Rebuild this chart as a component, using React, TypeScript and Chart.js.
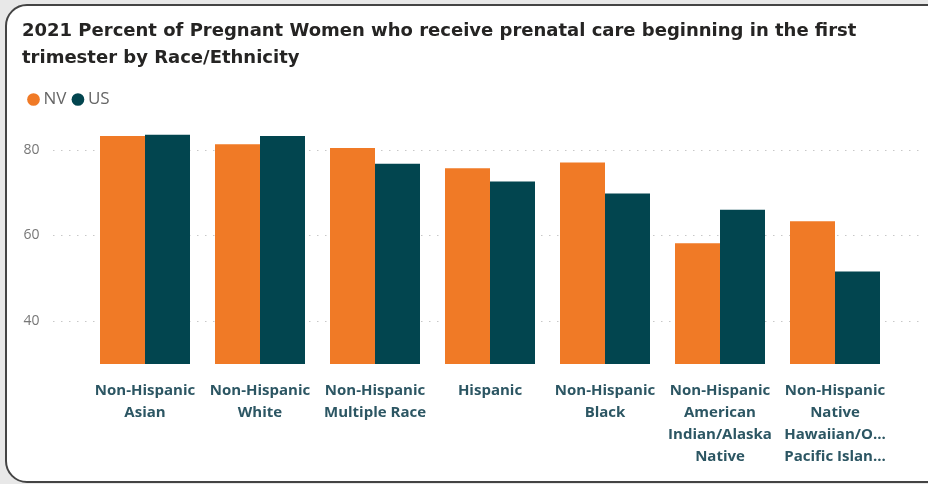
import React, { useEffect, useRef } from "react";
import { Chart, registerables } from "chart.js";

Chart.register(...registerables);

const categories: string[][] = [
  ["Non-Hispanic", "Asian"],
  ["Non-Hispanic", "White"],
  ["Non-Hispanic", "Multiple Race"],
  ["Hispanic"],
  ["Non-Hispanic", "Black"],
  ["Non-Hispanic", "American", "Indian/Alaska", "Native"],
  ["Non-Hispanic", "Native", "Hawaiian/O...", "Pacific Islan..."],
];
const nvValues = [83.2, 81.3, 80.4, 75.7, 77.0, 58.2, 63.3];
const usValues = [83.5, 83.2, 76.7, 72.6, 69.8, 66.0, 51.6];
const yTicks = [40, 60, 80];
const titleLines = [
  "2021 Percent of Pregnant Women who receive prenatal care beginning in the first",
  "trimester by Race/Ethnicity",
];

const FONT = "'Open Sans', 'Segoe UI', sans-serif";
const TITLE_FONT = "'DejaVu Sans', sans-serif";

const gridPlugin = {
  id: "dottedGrid",
  beforeDatasetsDraw(chart: any) {
    const { ctx } = chart;
    const y = chart.scales.y;
    ctx.save();
    ctx.strokeStyle = "#c8c8c8";
    ctx.lineWidth = 1;
    ctx.setLineDash([1.5, 6.5]);
    yTicks.forEach((v) => {
      const py = Math.round(y.getPixelForValue(v)) + 0.5;
      ctx.beginPath();
      ctx.moveTo(53, py);
      ctx.lineTo(922, py);
      ctx.stroke();
    });
    ctx.restore();
  },
};

export default function App() {
  const ref = useRef<HTMLCanvasElement>(null);
  useEffect(() => {
    if (!ref.current) return;
    const chart = new Chart(ref.current, {
      type: "bar",
      data: {
        labels: categories,
        datasets: [
          { label: "NV", data: nvValues, backgroundColor: "#F07A26" },
          { label: "US", data: usValues, backgroundColor: "#02454F" },
        ],
      },
      options: {
        animation: false,
        responsive: false,
        maintainAspectRatio: false,
        layout: { padding: { left: 22, right: 35.5, top: 0, bottom: 0 } },
        datasets: {
          bar: { categoryPercentage: 90 / 115, barPercentage: 1 },
        },
        plugins: {
          title: {
            display: true,
            text: titleLines,
            align: "start",
            color: "#252423",
            font: { family: TITLE_FONT, size: 18, weight: "bold", lineHeight: 27 / 18 },
            padding: { top: 18, bottom: 9 },
          },
          legend: {
            display: true,
            align: "start",
            labels: {
              usePointStyle: true,
              pointStyle: "circle",
              boxWidth: 3,
              boxHeight: 9,
              padding: 10,
              color: "#666",
              font: { family: FONT, size: 17 },
            },
          },
          tooltip: { enabled: false },
        },
        scales: {
          x: {
            grid: { display: false, drawTicks: false },
            border: { display: false },
            ticks: {
              autoSkip: false,
              maxRotation: 0,
              minRotation: 0,
              padding: 16,
              color: "#2C5663",
              font: { family: FONT, size: 15, weight: "bold", lineHeight: 22 / 15 },
            },
            afterFit: (s: any) => {
              s.height = 120;
            },
          },
          y: {
            min: 30,
            max: 87.4,
            grid: { display: false, drawTicks: false },
            border: { display: false },
            afterBuildTicks: (s: any) => {
              s.ticks = yTicks.map((v) => ({ value: v }));
            },
            afterFit: (s: any) => {
              s.width = 65.5;
            },
            ticks: {
              padding: 48,
              color: "#777",
              font: { family: FONT, size: 14 },
            },
          },
        },
      },
      plugins: [gridPlugin],
    });
    return () => chart.destroy();
  }, []);

  return (
    <div
      style={{
        position: "fixed",
        left: 0,
        top: 0,
        width: 928,
        height: 484,
        background: "#e8e8e8",
        overflow: "hidden",
      }}
    >
      <div
        style={{
          position: "absolute",
          left: 5,
          top: 4,
          width: 940,
          height: 475,
          border: "2px solid #444",
          borderRadius: 22,
          background: "#fff",
        }}
      />
      <canvas
        ref={ref}
        width={928}
        height={484}
        style={{ position: "absolute", left: 0, top: 0, width: 928, height: 484 }}
      />
    </div>
  );
}
